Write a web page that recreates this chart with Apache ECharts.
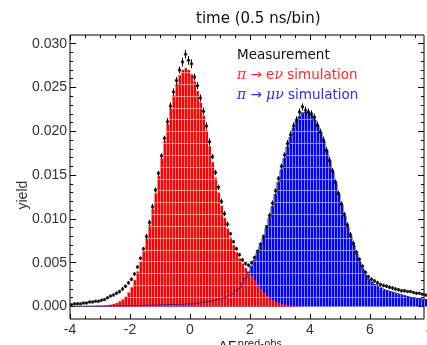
<!DOCTYPE html>
<html><head><meta charset="utf-8">
<script src="https://cdn.jsdelivr.net/npm/echarts@6/dist/echarts.min.js"></script>
<style>html,body{margin:0;padding:0;background:#fff}#c{width:427px;height:345px}</style>
</head><body><div id="c"></div>
<script>
// ---- data ----
const binStart = -4;      // lower edge of first bin
const binWidth = 0.1;     // bin width
const xTickLabels = [-4, -2, 0, 2, 4, 6, 8];
const yTickLabels = [0.000, 0.005, 0.010, 0.015, 0.020, 0.025, 0.030];

const measurement = [
  0.0002,0.0003,0.0003,0.0003,0.0004,0.0004,0.0005,0.0005,0.0006,0.0006,
  0.0007,0.0008,0.0010,0.0012,0.0013,0.0015,0.0017,0.0020,0.0023,0.0027,
  0.0031,0.0037,0.0045,0.0055,0.0066,0.0080,0.0096,0.0114,0.0133,0.0152,
  0.0172,0.0192,0.0211,0.0229,0.0245,0.0258,0.0270,0.0279,0.0288,0.0281,
  0.0277,0.0262,0.0252,0.0238,0.0223,0.0206,0.0188,0.0171,0.0153,0.0136,
  0.0120,0.0106,0.0094,0.0083,0.0074,0.0066,0.0059,0.0053,0.0049,0.0047,
  0.0050,0.0056,0.0063,0.0071,0.0080,0.0091,0.0104,0.0118,0.0132,0.0146,
  0.0160,0.0173,0.0186,0.0196,0.0206,0.0213,0.0222,0.0228,0.0224,0.0222,
  0.0220,0.0216,0.0207,0.0199,0.0190,0.0178,0.0167,0.0155,0.0142,0.0129,
  0.0117,0.0105,0.0093,0.0082,0.0072,0.0062,0.0054,0.0046,0.0039,0.0034,
  0.0031,0.0029,0.0027,0.0025,0.0024,0.0023,0.0022,0.0021,0.0020,0.0019,
  0.0018,0.0018,0.0017,0.0017,0.0016,0.0015,0.0015,0.0014,0.0013,0.0013
];
const measurementErr = [
  0.0001,0.0001,0.0001,0.0001,0.0001,0.0001,0.0001,0.0001,0.0001,0.0001,
  0.0001,0.0001,0.0001,0.0001,0.0001,0.0002,0.0002,0.0002,0.0002,0.0002,
  0.0002,0.0002,0.0002,0.0002,0.0002,0.0003,0.0003,0.0003,0.0003,0.0003,
  0.0003,0.0003,0.0004,0.0004,0.0004,0.0004,0.0004,0.0005,0.0005,0.0005,
  0.0005,0.0004,0.0004,0.0004,0.0004,0.0004,0.0004,0.0003,0.0003,0.0003,
  0.0003,0.0003,0.0003,0.0002,0.0002,0.0002,0.0002,0.0002,0.0002,0.0002,
  0.0002,0.0002,0.0002,0.0002,0.0002,0.0002,0.0003,0.0003,0.0003,0.0003,
  0.0003,0.0003,0.0004,0.0004,0.0004,0.0004,0.0004,0.0004,0.0004,0.0004,
  0.0004,0.0004,0.0004,0.0004,0.0004,0.0004,0.0004,0.0003,0.0003,0.0003,
  0.0003,0.0003,0.0003,0.0003,0.0003,0.0002,0.0002,0.0002,0.0002,0.0002,
  0.0002,0.0002,0.0002,0.0002,0.0002,0.0002,0.0002,0.0002,0.0002,0.0002,
  0.0002,0.0002,0.0001,0.0001,0.0001,0.0001,0.0001,0.0001,0.0001,0.0001
];
const eNuSim = [
  0.00002,0.00002,0.00003,0.00003,0.00004,0.00004,0.00005,0.00006,0.00007,0.00008,
  0.00009,0.0001,0.00015,0.0002,0.0003,0.0004,0.0006,0.0008,0.0011,0.0016,
  0.0022,0.0030,0.0040,0.0051,0.0063,0.0077,0.0093,0.0111,0.0129,0.0149,
  0.0169,0.0189,0.0208,0.0226,0.0241,0.0254,0.0264,0.0270,0.0272,0.0270,
  0.0265,0.0257,0.0246,0.0233,0.0218,0.0201,0.0183,0.0165,0.0147,0.0130,
  0.0115,0.0101,0.0089,0.0079,0.0070,0.0062,0.0055,0.0049,0.0044,0.0040,
  0.0035,0.0030,0.0025,0.0020,0.0016,0.0012,0.0009,0.0007,0.0005,0.0004,
  0.0003,0.0002,0.00015,0.0001,0.00007,0.00005,0.00003,0.00002,0.00001,0.00001,
  0,0,0,0,0,0,0,0,0,0,
  0,0,0,0,0,0,0,0,0,0,
  0,0,0,0,0,0,0,0,0,0,
  0,0,0,0,0,0,0,0,0,0
];
const muNuSim = [
  0.00002,0.00002,0.00003,0.00003,0.00003,0.00004,0.00004,0.00004,0.00005,0.00005,
  0.00005,0.00006,0.00006,0.00007,0.00007,0.00008,0.00008,0.00009,0.0001,0.0001,
  0.0001,0.00011,0.00012,0.00012,0.00013,0.00014,0.00015,0.00016,0.00017,0.00018,
  0.0002,0.0002,0.00021,0.00022,0.00023,0.00024,0.00025,0.00026,0.00028,0.0003,
  0.0003,0.0003,0.0004,0.0004,0.0005,0.0005,0.0006,0.0006,0.0007,0.0008,
  0.0009,0.0010,0.0011,0.0013,0.0015,0.0018,0.0021,0.0026,0.0032,0.0039,
  0.0046,0.0053,0.0061,0.0069,0.0078,0.0089,0.0101,0.0114,0.0128,0.0142,
  0.0156,0.0169,0.0182,0.0193,0.0203,0.0211,0.0217,0.0221,0.0222,0.0221,
  0.0218,0.0213,0.0206,0.0198,0.0189,0.0178,0.0166,0.0154,0.0141,0.0128,
  0.0116,0.0103,0.0091,0.0080,0.0070,0.0060,0.0051,0.0043,0.0036,0.0031,
  0.0028,0.0025,0.0023,0.0021,0.0019,0.0018,0.0017,0.0016,0.0015,0.0014,
  0.0013,0.0012,0.0011,0.0010,0.0010,0.0009,0.0009,0.0008,0.0008,0.0007
];

// ---- build ----
const centers = measurement.map((_, i) => +(binStart + binWidth * (i + 0.5)).toFixed(3));
const pairs = arr => arr.map((v, i) => [centers[i], v]);

const hatchStart = 0.0011, hatchStep = 0.00135;
function histItem(fill, stripe) {
  return function (params, api) {
    const xc = api.value(0), v = api.value(1);
    if (!(v > 0)) return null;
    const tl = api.coord([xc - binWidth / 2, v]);
    const br = api.coord([xc + binWidth / 2, 0]);
    const x0 = Math.round(tl[0]), x1 = Math.round(br[0]);
    const yTop = tl[1], yBot = br[1];
    const ch = [
      { type: 'rect', shape: { x: x0, y: yTop, width: x1 - x0, height: yBot - yTop }, style: { fill: fill } },
      { type: 'rect', shape: { x: x0, y: yTop, width: 1, height: yBot - yTop }, style: { fill: stripe } }
    ];
    for (let k = 0; k < 40; k++) {
      const hv = hatchStart + k * hatchStep;
      if (hv >= v) break;
      const py = Math.round(api.coord([xc, hv])[1]);
      ch.push({ type: 'rect', shape: { x: x0 + 1, y: py, width: x1 - x0 - 1, height: 1 }, style: { fill: 'rgba(255,255,255,0.55)' } });
    }
    return { type: 'group', children: ch };
  };
}

const tickFont = { fontFamily: 'Liberation Sans', fontSize: 14, color: '#333' };
const yMin = yTickLabels[0], yMax = yTickLabels[yTickLabels.length - 1];
const xMin = xTickLabels[0], xMax = xTickLabels[xTickLabels.length - 1];
const axisCommon = {
  type: 'value', gridIndex: 0,
  axisLine: { show: false, onZero: false },
  splitLine: { show: false },
};

const chart = echarts.init(document.getElementById('c'), null, { renderer: 'canvas' });
chart.setOption({
  animation: false,
  backgroundColor: '#fff',
  title: {
    text: 'time (0.5 ns/bin)', left: 196, top: 12, padding: 0,
    textStyle: { fontFamily: 'DejaVu Sans', fontSize: 15, fontWeight: 'normal', color: '#111' }
  },
  legend: {
    orient: 'vertical', left: 227, top: 43, itemWidth: 0, itemHeight: 14, itemGap: 6,
    icon: 'none', selectedMode: false,
    textStyle: {
      fontFamily: 'DejaVu Sans', fontSize: 13.5,
      rich: { g: { fontFamily: 'DejaVu Serif', fontStyle: 'italic', fontSize: 14 } }
    },
    formatter: name => name === 'Measurement' ? name
      : name.replace('π', '{g|π}').replace('ν', '{g|ν}').replace('μ', '{g|μ}'),
    data: [
      { name: 'Measurement', textStyle: { color: '#111' } },
      { name: 'π → eν simulation', textStyle: { color: '#ff2b2b' } },
      { name: 'π → μν simulation', textStyle: { color: '#2b2bff' } }
    ]
  },
  grid: [
    { left: 70, right: -3, top: 43.7, bottom: 38.5, outerBoundsMode: 'none', containLabel: false },
    { left: 70, right: 3, top: 35, bottom: 26, show: true, borderColor: '#000', borderWidth: 1,
      backgroundColor: 'transparent', outerBoundsMode: 'none', containLabel: false }
  ],
  xAxis: [
    Object.assign({}, axisCommon, {
      position: 'bottom', min: xMin, max: xMax, interval: 2, offset: 12.5,
      axisTick: { inside: true, length: 5, lineStyle: { color: '#000' } },
      minorTick: { show: true, splitNumber: 4, length: 3, lineStyle: { color: '#000' } },
      axisLabel: Object.assign({ margin: 4, showMinLabel: true, showMaxLabel: true }, tickFont),
      name: '{d|Δ}{e|E}{s|pred-obs}', nameLocation: 'middle', nameGap: 20, nameMoveOverlap: false,
      nameTextStyle: {
        rich: {
          d: { fontFamily: 'DejaVu Sans', fontSize: 14, color: '#222' },
          e: { fontFamily: 'DejaVu Sans', fontSize: 14, color: '#222' },
          s: { fontFamily: 'DejaVu Sans', fontSize: 10, color: '#222', verticalAlign: 'top', padding: [0, 0, 6, 1] }
        }
      }
    }),
    Object.assign({}, axisCommon, {
      position: 'top', min: xMin, max: xMax, interval: 2, offset: 8.7,
      axisTick: { inside: true, length: 5, lineStyle: { color: '#000' } },
      minorTick: { show: true, splitNumber: 4, length: 3, lineStyle: { color: '#000' } },
      axisLabel: { show: false }
    }),
    { type: 'value', gridIndex: 1, show: false, min: 0, max: 1 }
  ],
  yAxis: [
    Object.assign({}, axisCommon, {
      position: 'left', min: yMin, max: yMax, interval: 0.005,
      axisTick: { inside: true, length: 6, lineStyle: { color: '#000' } },
      minorTick: { show: true, splitNumber: 5, length: 3, lineStyle: { color: '#000' } },
      axisLabel: Object.assign({ margin: 3, formatter: v => v.toFixed(3) }, tickFont),
      name: 'yield', nameLocation: 'middle', nameGap: 40, nameMoveOverlap: false,
      nameTextStyle: { fontFamily: 'Liberation Sans', fontSize: 14, color: '#333', padding: [0, 40, 0, 0] }
    }),
    Object.assign({}, axisCommon, {
      position: 'right', min: yMin, max: yMax, interval: 0.005, offset: -6,
      axisTick: { inside: true, length: 6, lineStyle: { color: '#000' } },
      minorTick: { show: true, splitNumber: 5, length: 3, lineStyle: { color: '#000' } },
      axisLabel: { show: false }
    }),
    { type: 'value', gridIndex: 1, show: false, min: 0, max: 1 }
  ],
  series: [
    { name: 'π → μν simulation', type: 'custom', xAxisIndex: 0, yAxisIndex: 0, z: 2,
      itemStyle: { color: '#0000ff' },
      renderItem: histItem('#0000ff', 'rgba(150,150,255,0.9)'), data: pairs(muNuSim) },
    { name: 'π → eν simulation', type: 'custom', xAxisIndex: 0, yAxisIndex: 0, z: 3,
      itemStyle: { color: '#ff0000' },
      renderItem: histItem('#ff0000', 'rgba(255,150,150,0.9)'), data: pairs(eNuSim) },
    { name: 'π → μν simulation', type: 'line', xAxisIndex: 0, yAxisIndex: 0, z: 3.5,
      step: 'middle', showSymbol: false, symbol: 'none',
      lineStyle: { color: '#2a2a7a', width: 1 }, itemStyle: { color: '#2a2a7a' },
      data: pairs(muNuSim) },
    { name: 'Measurement', type: 'custom', xAxisIndex: 0, yAxisIndex: 0, z: 4,
      itemStyle: { color: '#000' },
      renderItem: function (params, api) {
        const x = api.value(0), y = api.value(1), e = api.value(2);
        const a = api.coord([x, y - e]), b = api.coord([x, y + e]);
        return { type: 'line', shape: { x1: a[0], y1: a[1], x2: b[0], y2: b[1] }, style: { stroke: '#000', lineWidth: 1 } };
      },
      data: measurement.map((v, i) => [centers[i], v, measurementErr[i]]) },
    { name: 'Measurement', type: 'scatter', xAxisIndex: 0, yAxisIndex: 0, z: 5,
      symbol: 'circle', symbolSize: 3.5, itemStyle: { color: '#000' },
      data: pairs(measurement) }
  ]
});
</script></body></html>
